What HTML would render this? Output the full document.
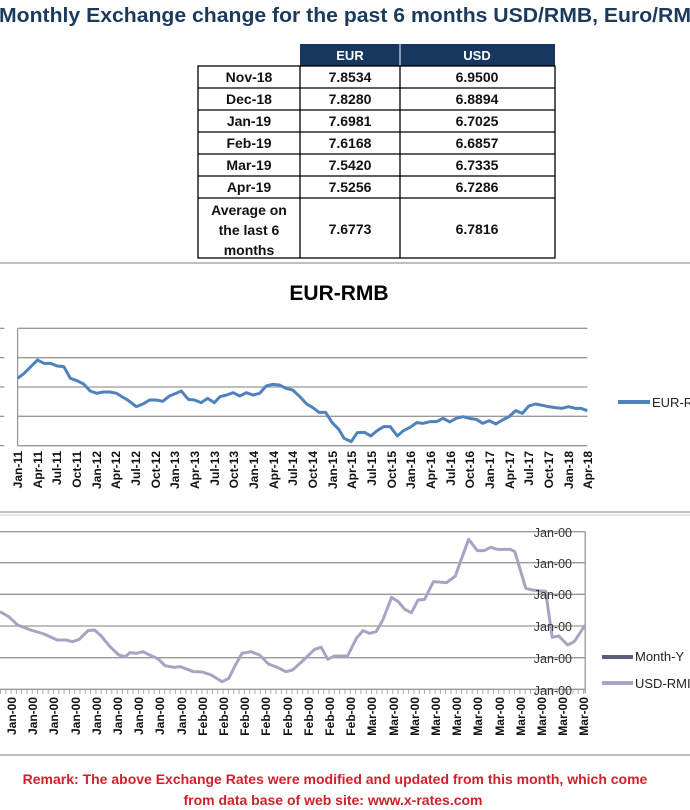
<!DOCTYPE html>
<html><head><meta charset="utf-8"><style>
html,body{margin:0;padding:0;background:#fff;width:690px;height:810px;overflow:hidden}
svg{display:block}
</style></head><body>
<svg width="690" height="810" viewBox="0 0 690 810" xmlns="http://www.w3.org/2000/svg" font-family="Liberation Sans, Arial, sans-serif">
<text x="-1" y="22" font-size="20" font-weight="bold" fill="#1b3a5c" textLength="692" lengthAdjust="spacingAndGlyphs">Monthly Exchange change for the past 6 months USD/RMB, Euro/RM</text>
<!-- table -->
<rect x="300" y="44" width="255" height="22" fill="#17375e"/>
<line x1="400" y1="44" x2="400" y2="66" stroke="#fff" stroke-width="1"/>
<text x="350" y="60" font-size="13" font-weight="bold" fill="#fff" text-anchor="middle">EUR</text>
<text x="477" y="60" font-size="13" font-weight="bold" fill="#fff" text-anchor="middle">USD</text>
<g stroke="#000" stroke-width="1.3" fill="none">
<rect x="198" y="66" width="357" height="192"/>
<line x1="300" y1="66" x2="300" y2="258"/><line x1="400" y1="66" x2="400" y2="258"/>
<line x1="198" y1="88" x2="555" y2="88"/><line x1="198" y1="110" x2="555" y2="110"/>
<line x1="198" y1="132" x2="555" y2="132"/><line x1="198" y1="154" x2="555" y2="154"/>
<line x1="198" y1="176" x2="555" y2="176"/><line x1="198" y1="198" x2="555" y2="198"/>
</g>
<g font-size="14" font-weight="bold" fill="#111" text-anchor="middle">
<text x="249" y="82">Nov-18</text><text x="350" y="82">7.8534</text><text x="477" y="82">6.9500</text>
<text x="249" y="104">Dec-18</text><text x="350" y="104">7.8280</text><text x="477" y="104">6.8894</text>
<text x="249" y="126">Jan-19</text><text x="350" y="126">7.6981</text><text x="477" y="126">6.7025</text>
<text x="249" y="148">Feb-19</text><text x="350" y="148">7.6168</text><text x="477" y="148">6.6857</text>
<text x="249" y="170">Mar-19</text><text x="350" y="170">7.5420</text><text x="477" y="170">6.7335</text>
<text x="249" y="192">Apr-19</text><text x="350" y="192">7.5256</text><text x="477" y="192">6.7286</text>
<text x="249" y="215">Average on</text><text x="249" y="235">the last 6</text><text x="249" y="255">months</text>
<text x="350" y="234">7.6773</text><text x="477" y="234">6.7816</text>
</g>
<line x1="0" y1="263" x2="690" y2="263" stroke="#aaa" stroke-width="1.5"/>
<line x1="0" y1="512" x2="690" y2="512" stroke="#aaa" stroke-width="1.5"/>
<line x1="0" y1="515" x2="690" y2="515" stroke="#ccc" stroke-width="1"/>
<line x1="0" y1="755" x2="690" y2="755" stroke="#aaa" stroke-width="1.5"/>

<!-- chart 1 -->
<text x="339" y="300" font-size="21" font-weight="bold" fill="#000" text-anchor="middle">EUR-RMB</text>
<g transform="translate(0,260) scale(0.44,0.33333)">
<g stroke="#999" stroke-width="1.3" vector-effect="non-scaling-stroke">
<line vector-effect="non-scaling-stroke" x1="40" y1="205" x2="1335" y2="205"/><line vector-effect="non-scaling-stroke" x1="40" y1="293" x2="1335" y2="293"/>
<line vector-effect="non-scaling-stroke" x1="40" y1="381" x2="1335" y2="381"/><line vector-effect="non-scaling-stroke" x1="40" y1="469" x2="1335" y2="469"/>
<line vector-effect="non-scaling-stroke" x1="40" y1="557" x2="1335" y2="557"/><line vector-effect="non-scaling-stroke" x1="40" y1="205" x2="40" y2="557"/>
<line vector-effect="non-scaling-stroke" x1="0" y1="205" x2="10" y2="205"/><line vector-effect="non-scaling-stroke" x1="0" y1="293" x2="10" y2="293"/><line vector-effect="non-scaling-stroke" x1="0" y1="381" x2="10" y2="381"/><line vector-effect="non-scaling-stroke" x1="0" y1="469" x2="10" y2="469"/><line vector-effect="non-scaling-stroke" x1="0" y1="557" x2="10" y2="557"/>
</g>
<polyline vector-effect="non-scaling-stroke" fill="none" stroke="#4f81bd" stroke-width="3" stroke-linejoin="round" points="40,355 55,340 70,320 85,300 100,310 115,310 130,318 145,320 160,355 175,362 190,372 205,393 220,400 235,396 250,396 265,400 277,410 290,420 310,440 325,432 340,420 355,420 370,424 385,408 400,400 412,393 428,418 442,420 457,428 472,415 487,428 500,410 515,405 530,398 545,408 560,398 575,405 590,400 605,378 620,373 635,375 650,385 665,390 680,408 697,432 710,442 725,457 740,457 755,488 770,508 782,535 798,545 812,518 828,517 843,528 857,512 872,500 887,500 903,528 917,512 932,502 947,488 962,490 977,485 992,485 1007,475 1022,486 1037,475 1052,470 1067,475 1082,478 1097,490 1112,482 1127,492 1142,480 1157,470 1172,452 1187,460 1202,438 1217,432 1232,436 1247,440 1262,443 1277,445 1292,440 1307,445 1320,445 1335,452"/>
</g>
<line x1="618" y1="402" x2="650" y2="402" stroke="#4f81bd" stroke-width="4"/>
<text x="652" y="407" font-size="13" fill="#222">EUR-R</text>
<g font-size="12" font-weight="bold" fill="#111" text-anchor="end">
<text transform="translate(22,451) rotate(-90)">Jan-11</text><text transform="translate(42,451) rotate(-90)">Apr-11</text><text transform="translate(61,451) rotate(-90)">Jul-11</text><text transform="translate(81,451) rotate(-90)">Oct-11</text><text transform="translate(101,451) rotate(-90)">Jan-12</text><text transform="translate(120,451) rotate(-90)">Apr-12</text><text transform="translate(140,451) rotate(-90)">Jul-12</text><text transform="translate(160,451) rotate(-90)">Oct-12</text><text transform="translate(179,451) rotate(-90)">Jan-13</text><text transform="translate(199,451) rotate(-90)">Apr-13</text><text transform="translate(219,451) rotate(-90)">Jul-13</text><text transform="translate(238,451) rotate(-90)">Oct-13</text><text transform="translate(258,451) rotate(-90)">Jan-14</text><text transform="translate(278,451) rotate(-90)">Apr-14</text><text transform="translate(297,451) rotate(-90)">Jul-14</text><text transform="translate(317,451) rotate(-90)">Oct-14</text><text transform="translate(337,451) rotate(-90)">Jan-15</text><text transform="translate(356,451) rotate(-90)">Apr-15</text><text transform="translate(376,451) rotate(-90)">Jul-15</text><text transform="translate(396,451) rotate(-90)">Oct-15</text><text transform="translate(415,451) rotate(-90)">Jan-16</text><text transform="translate(435,451) rotate(-90)">Apr-16</text><text transform="translate(455,451) rotate(-90)">Jul-16</text><text transform="translate(474,451) rotate(-90)">Oct-16</text><text transform="translate(494,451) rotate(-90)">Jan-17</text><text transform="translate(514,451) rotate(-90)">Apr-17</text><text transform="translate(533,451) rotate(-90)">Jul-17</text><text transform="translate(553,451) rotate(-90)">Oct-17</text><text transform="translate(573,451) rotate(-90)">Jan-18</text><text transform="translate(592,451) rotate(-90)">Apr-18</text>
</g>

<!-- chart 2 -->
<g transform="translate(0,510) scale(0.44,0.33333)">
<g stroke="#999" stroke-width="1.3">
<line vector-effect="non-scaling-stroke" x1="0" y1="65" x2="1330" y2="65"/><line vector-effect="non-scaling-stroke" x1="0" y1="158" x2="1330" y2="158"/>
<line vector-effect="non-scaling-stroke" x1="0" y1="253" x2="1330" y2="253"/><line vector-effect="non-scaling-stroke" x1="0" y1="348" x2="1330" y2="348"/>
<line vector-effect="non-scaling-stroke" x1="0" y1="443" x2="1330" y2="443"/><line vector-effect="non-scaling-stroke" x1="0" y1="538" x2="1330" y2="538"/>
<line vector-effect="non-scaling-stroke" x1="1330" y1="65" x2="1330" y2="550"/>
</g>
<polyline vector-effect="non-scaling-stroke" fill="none" stroke="#a5a5c3" stroke-width="3" stroke-linejoin="round" points="0,305 20,320 40,345 70,360 100,372 130,390 150,390 165,395 180,388 200,362 215,360 230,378 250,410 270,435 285,440 295,428 310,430 325,425 340,435 360,447 375,467 395,472 410,470 440,485 460,486 480,495 505,515 520,505 535,465 550,430 570,425 590,435 610,462 630,472 650,485 665,480 690,450 715,418 730,412 745,448 760,438 790,438 810,385 825,362 840,370 855,365 870,330 890,262 905,275 920,298 935,308 950,270 965,268 985,215 1015,218 1035,198 1045,160 1065,88 1085,122 1100,122 1115,112 1130,118 1160,118 1170,125 1195,235 1210,240 1240,244 1255,382 1270,378 1290,405 1305,395 1330,345"/>
</g>
<line x1="0" y1="692" x2="585" y2="692" stroke="#aaa" stroke-width="4" stroke-dasharray="1 4.3"/>
<line x1="602" y1="657" x2="633" y2="657" stroke="#5a5a7a" stroke-width="4"/>
<line x1="602" y1="683" x2="633" y2="683" stroke="#a5a5c3" stroke-width="4"/>
<g font-size="12.5" fill="#333" text-anchor="end">
<text x="572" y="537">Jan-00</text><text x="572" y="568">Jan-00</text><text x="572" y="599">Jan-00</text><text x="572" y="631">Jan-00</text><text x="572" y="663">Jan-00</text><text x="572" y="695">Jan-00</text>
</g>
<text x="635" y="661" font-size="13" fill="#222">Month-Y</text>
<text x="635" y="688" font-size="13" fill="#222">USD-RMI</text>
<g font-size="12" font-weight="bold" fill="#111" text-anchor="end">
<text transform="translate(16,697) rotate(-90)">Jan-00</text><text transform="translate(37,697) rotate(-90)">Jan-00</text><text transform="translate(58,697) rotate(-90)">Jan-00</text><text transform="translate(80,697) rotate(-90)">Jan-00</text><text transform="translate(101,697) rotate(-90)">Jan-00</text><text transform="translate(122,697) rotate(-90)">Jan-00</text><text transform="translate(143,697) rotate(-90)">Jan-00</text><text transform="translate(164,697) rotate(-90)">Jan-00</text><text transform="translate(186,697) rotate(-90)">Jan-00</text><text transform="translate(207,697) rotate(-90)">Feb-00</text><text transform="translate(228,697) rotate(-90)">Feb-00</text><text transform="translate(249,697) rotate(-90)">Feb-00</text><text transform="translate(270,697) rotate(-90)">Feb-00</text><text transform="translate(292,697) rotate(-90)">Feb-00</text><text transform="translate(313,697) rotate(-90)">Feb-00</text><text transform="translate(334,697) rotate(-90)">Feb-00</text><text transform="translate(355,697) rotate(-90)">Feb-00</text><text transform="translate(376,697) rotate(-90)">Mar-00</text><text transform="translate(398,697) rotate(-90)">Mar-00</text><text transform="translate(419,697) rotate(-90)">Mar-00</text><text transform="translate(440,697) rotate(-90)">Mar-00</text><text transform="translate(461,697) rotate(-90)">Mar-00</text><text transform="translate(482,697) rotate(-90)">Mar-00</text><text transform="translate(504,697) rotate(-90)">Mar-00</text><text transform="translate(525,697) rotate(-90)">Mar-00</text><text transform="translate(546,697) rotate(-90)">Mar-00</text><text transform="translate(567,697) rotate(-90)">Mar-00</text><text transform="translate(588,697) rotate(-90)">Mar-00</text>
</g>

<g font-size="14" font-weight="bold" fill="#d0202a" text-anchor="middle">
<text x="335" y="784">Remark: The above Exchange Rates were modified and updated from this month, which come</text>
<text x="333" y="805">from data base of web site: www.x-rates.com</text>
</g>
</svg>
</body></html>
